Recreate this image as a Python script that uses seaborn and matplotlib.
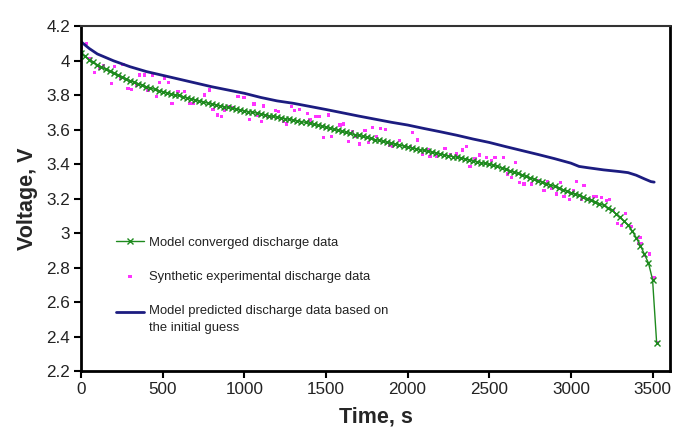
import matplotlib
matplotlib.use("Agg")
import matplotlib.pyplot as plt
import numpy as np
import pandas as pd
import seaborn as sns

# --- data ---
conv_time = np.arange(0, 3550, 25)
conv_volt = [
    4.045, 4.025, 4.005, 3.990, 3.975, 3.962, 3.949, 3.937, 3.926, 3.915,
    3.905, 3.895, 3.884, 3.875, 3.866, 3.857, 3.848, 3.840, 3.833, 3.826,
    3.820, 3.813, 3.806, 3.800, 3.798, 3.791, 3.784, 3.777, 3.771, 3.765,
    3.759, 3.753, 3.748, 3.743, 3.738, 3.733, 3.728, 3.723, 3.718, 3.714,
    3.709, 3.704, 3.700, 3.695, 3.690, 3.685, 3.680, 3.676, 3.671, 3.667,
    3.663, 3.659, 3.654, 3.650, 3.646, 3.641, 3.636, 3.630, 3.625, 3.619,
    3.613, 3.607, 3.601, 3.595, 3.589, 3.583, 3.577, 3.571, 3.566, 3.560,
    3.554, 3.548, 3.542, 3.537, 3.531, 3.526, 3.520, 3.515, 3.510, 3.504,
    3.499, 3.494, 3.489, 3.484, 3.479, 3.474, 3.468, 3.463, 3.458, 3.453,
    3.448, 3.443, 3.440, 3.435, 3.430, 3.424, 3.419, 3.414, 3.408, 3.403,
    3.398, 3.393, 3.386, 3.378, 3.370, 3.361, 3.353, 3.345, 3.337, 3.328,
    3.320, 3.312, 3.304, 3.295, 3.287, 3.279, 3.270, 3.262, 3.252, 3.243,
    3.234, 3.225, 3.218, 3.209, 3.200, 3.190, 3.180, 3.170, 3.160, 3.147,
    3.133, 3.112, 3.090, 3.068, 3.046, 3.012, 2.973, 2.927, 2.878, 2.826,
    2.730, 2.364,
]

guess_time = [0, 50, 100, 200, 300, 400, 500, 600, 700, 800, 900, 1000,
              1100, 1200, 1300, 1400, 1500, 1600, 1700, 1800, 1900, 2000,
              2100, 2200, 2300, 2400, 2500, 2600, 2700, 2800, 2900, 3000,
              3050, 3100, 3200, 3300, 3350, 3400, 3450, 3490, 3510]
guess_volt = [4.109, 4.070, 4.038, 3.998, 3.964, 3.936, 3.914, 3.892, 3.870,
              3.848, 3.829, 3.810, 3.786, 3.766, 3.752, 3.734, 3.716, 3.697,
              3.678, 3.660, 3.642, 3.626, 3.606, 3.587, 3.567, 3.545, 3.525,
              3.501, 3.478, 3.455, 3.431, 3.405, 3.386, 3.379, 3.366, 3.356,
              3.350, 3.335, 3.314, 3.298, 3.295]

exp_time = [4, 31, 55, 84, 114, 135, 186, 206, 243, 257, 288, 308, 339, 359,
            390, 410, 435, 461, 482, 512, 537, 557, 594, 635, 666, 686, 757,
            788, 808, 835, 859, 880, 911, 931, 961, 998, 1033, 1059, 1080,
            1104, 1119, 1145, 1165, 1190, 1208, 1239, 1260, 1290, 1310, 1337,
            1386, 1402, 1439, 1459, 1484, 1514, 1535, 1586, 1606, 1637, 1663,
            1684, 1708, 1739, 1759, 1786, 1811, 1835, 1862, 1888, 1909, 1953,
            1984, 2015, 2031, 2059, 2092, 2127, 2137, 2178, 2229, 2260, 2300,
            2337, 2362, 2382, 2413, 2439, 2484, 2515, 2535, 2586, 2611, 2637,
            2658, 2684, 2713, 2750, 2760, 2794, 2835, 2856, 2882, 2913, 2938,
            2958, 2990, 3015, 3035, 3066, 3080, 3113, 3137, 3158, 3189, 3219,
            3235, 3260, 3284, 3311, 3337, 3372, 3413, 3423, 3433, 3448, 3484,
            3509, 3529]
exp_volt = [4.074, 4.100, 4.013, 3.929, 3.955, 3.968, 3.868, 3.964, 3.897,
            3.978, 3.839, 3.833, 3.858, 3.916, 3.916, 3.829, 3.916, 3.790,
            3.871, 3.897, 3.871, 3.752, 3.819, 3.819, 3.752, 3.752, 3.800,
            3.829, 3.717, 3.684, 3.678, 3.713, 3.732, 3.729, 3.790, 3.784,
            3.659, 3.748, 3.684, 3.649, 3.736, 3.678, 3.671, 3.709, 3.703,
            3.649, 3.632, 3.732, 3.709, 3.717, 3.694, 3.655, 3.674, 3.678,
            3.555, 3.684, 3.562, 3.626, 3.632, 3.529, 3.591, 3.562, 3.516,
            3.593, 3.524, 3.613, 3.558, 3.607, 3.601, 3.510, 3.504, 3.535,
            3.504, 3.500, 3.581, 3.539, 3.456, 3.485, 3.443, 3.446, 3.491,
            3.452, 3.458, 3.481, 3.504, 3.386, 3.433, 3.452, 3.439, 3.419,
            3.439, 3.439, 3.342, 3.321, 3.408, 3.292, 3.284, 3.317, 3.284,
            3.303, 3.249, 3.297, 3.259, 3.226, 3.292, 3.214, 3.195, 3.245,
            3.297, 3.195, 3.278, 3.195, 3.214, 3.214, 3.207, 3.187, 3.195,
            3.133, 3.056, 3.046, 3.114, 3.036, 2.940, 2.975, 2.940, 2.872,
            2.878, 2.741, 2.366]

sns.set_style("ticks")
plt.rcParams["font.family"] = ["Liberation Sans", "DejaVu Sans"]

fig = plt.figure(figsize=(6.78, 4.30), dpi=100)
ax = fig.add_axes([0.1195, 0.1372, 0.8685, 0.8023])

sns.lineplot(x=conv_time, y=conv_volt, ax=ax, color="#1e8a1e", linewidth=1.0,
             marker="x", markersize=4, markeredgewidth=1.0,
             markeredgecolor="#1e8a1e",
             label="Model converged discharge data")
sns.scatterplot(x=exp_time, y=exp_volt, ax=ax, color="#ff33ff", marker="s",
                s=5, edgecolor="none", linewidth=0,
                label="Synthetic experimental discharge data")
sns.lineplot(x=guess_time, y=guess_volt, ax=ax, color="#1c1c80", linewidth=2.0,
             label="Model predicted discharge data based on\nthe initial guess")

ax.set_xlim(0, 3606)
ax.set_ylim(2.2, 4.2)
ax.set_xticks(np.arange(0, 3501, 500))
ax.set_yticks(np.arange(2.2, 4.21, 0.2))
ax.set_yticklabels(["2.2", "2.4", "2.6", "2.8", "3", "3.2", "3.4", "3.6",
                    "3.8", "4", "4.2"])
ax.tick_params(axis="both", direction="out", length=5, width=1.5,
               labelsize=12.3, colors="black", labelcolor="#222222", pad=3)
ax.set_xlabel("Time, s", fontsize=15.5, fontweight="bold", labelpad=7)
ax.set_ylabel("Voltage, V", fontsize=15.5, fontweight="bold", labelpad=6)

for side in ["left", "bottom", "right"]:
    ax.spines[side].set_visible(True)
    ax.spines[side].set_linewidth(2.0)
    ax.spines[side].set_color("black")
ax.spines["top"].set_visible(True)
ax.spines["top"].set_linewidth(1.5)
ax.spines["top"].set_color("#333333")

leg = ax.legend(loc="upper left", bbox_to_anchor=(0.05, 0.405), frameon=False,
                fontsize=9.4, labelspacing=1.7, handlelength=2.2,
                handletextpad=0.35, borderaxespad=0)
for txt in leg.get_texts():
    txt.set_color("#222222")
    txt.set_linespacing(1.55)

# the two-line entry: put its handle level with the first text line
blue_handle = leg.legend_handles[2]
blue_handle.set_ydata(np.asarray(blue_handle.get_ydata()) + 5.5)

fig.savefig("out.png", dpi=100)
plt.close(fig)
